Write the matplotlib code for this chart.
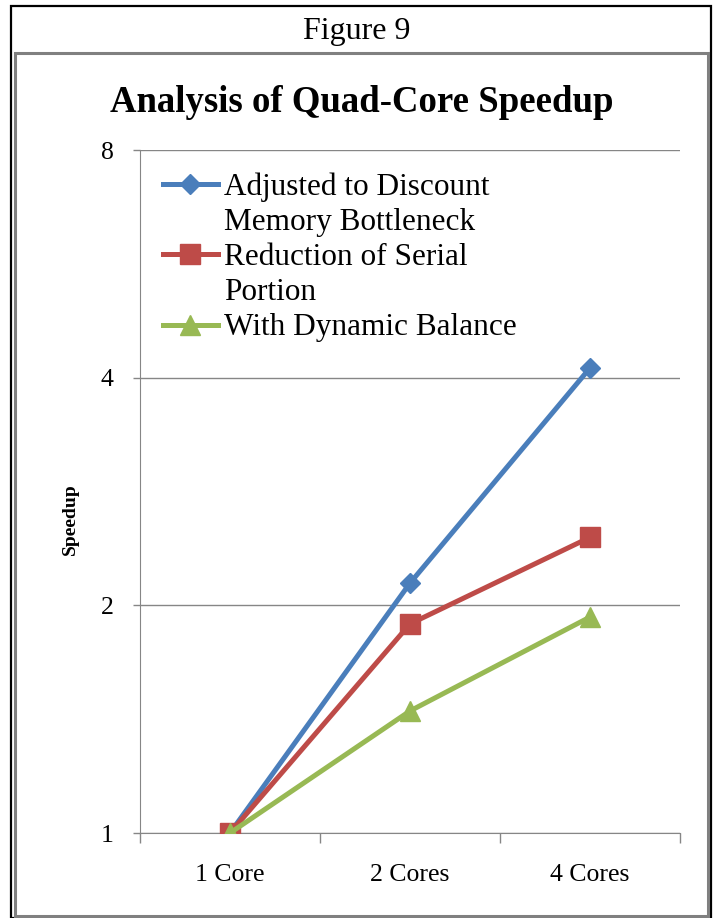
import matplotlib
matplotlib.use("Agg")
import matplotlib.pyplot as plt
from matplotlib.lines import Line2D
from matplotlib.patches import Rectangle
from matplotlib.ticker import FixedLocator, NullFormatter, FixedFormatter

plt.rcParams["font.family"] = "Liberation Serif"

cores = ["1 Core", "2 Cores", "4 Cores"]
adjusted = [1.0, 2.14, 4.12]
serial = [1.0, 1.89, 2.46]
dynamic = [1.0, 1.45, 1.93]
yticks = [1, 2, 4, 8]

C_B = "#4A7EBB"; C_R = "#BE4B48"; C_G = "#98B954"; C_AX = "#868686"
W, H = 716, 918
fig = plt.figure(figsize=(W / 100, H / 100), dpi=100)

# table-cell borders
fig.patches.append(Rectangle((11 / W, 0), 700 / W, 1 - 6 / H, transform=fig.transFigure,
                             fill=False, ec="black", lw=1.6, clip_on=False))
fig.patches.append(Rectangle((15 / W, 1 - 916 / H), 693 / W, 863 / H, transform=fig.transFigure,
                             fill=False, ec="#808080", lw=2.2, clip_on=False))
fig.text(357 / W, 1 - 31 / H, "Figure 9", ha="center", va="center", fontsize=23)
fig.text(362 / W, 1 - 102 / H, "Analysis of Quad-Core Speedup", ha="center", va="center",
         fontsize=26.5, fontweight="bold")

ax = fig.add_axes([140 / W, 1 - 833 / H, 540 / W, 683 / H])
x = range(len(cores))
ax.plot(x, adjusted, "-D", color=C_B, lw=3.6, ms=10, zorder=3)
ax.plot(x, serial, "-s", color=C_R, lw=3.6, ms=14, zorder=4)
ax.plot(x, dynamic, "-^", color=C_G, lw=3.6, ms=14, zorder=5)

ax.set_yscale("log", base=2)
ax.set_ylim(1, 8)
ax.set_yticks(yticks)
ax.set_yticklabels([str(v) for v in yticks])
ax.yaxis.set_minor_locator(FixedLocator([]))
ax.set_xlim(-0.5, 2.5)
ax.xaxis.set_major_locator(FixedLocator([-0.5, 0.5, 1.5, 2.5]))
ax.xaxis.set_major_formatter(NullFormatter())
ax.xaxis.set_minor_locator(FixedLocator(list(x)))
ax.xaxis.set_minor_formatter(FixedFormatter(cores))
ax.tick_params(axis="x", which="major", length=7, color=C_AX, width=1)
ax.tick_params(axis="x", which="minor", length=0, pad=22, labelsize=18.5)
ax.tick_params(axis="y", which="major", length=5, color=C_AX, width=1, pad=14, labelsize=18.5)
ax.grid(True, axis="y", which="major", color=C_AX, lw=1, zorder=0)
for s in ["top", "right"]:
    ax.spines[s].set_visible(False)
for s in ["left", "bottom"]:
    ax.spines[s].set_color(C_AX)
ax.set_ylabel("Speedup", fontsize=14, fontweight="bold")
ax.yaxis.set_label_coords(-0.113, 0.46)

handles = [Line2D([], [], color=C_B, marker="D", lw=3.6, ms=10),
           Line2D([], [], color="none"),
           Line2D([], [], color=C_R, marker="s", lw=3.6, ms=14),
           Line2D([], [], color="none"),
           Line2D([], [], color=C_G, marker="^", lw=3.6, ms=14)]
labels = ["Adjusted to Discount", "Memory Bottleneck", "Reduction of Serial", "Portion",
          "With Dynamic Balance"]
ax.legend(handles, labels, loc="upper left", bbox_to_anchor=(163 / W, 1 - 172 / H),
          bbox_transform=fig.transFigure, frameon=False, fontsize=22.5, borderpad=0,
          borderaxespad=0, handlelength=1.75, handletextpad=0.2, labelspacing=0.2)

fig.savefig("out.png", dpi=100)
